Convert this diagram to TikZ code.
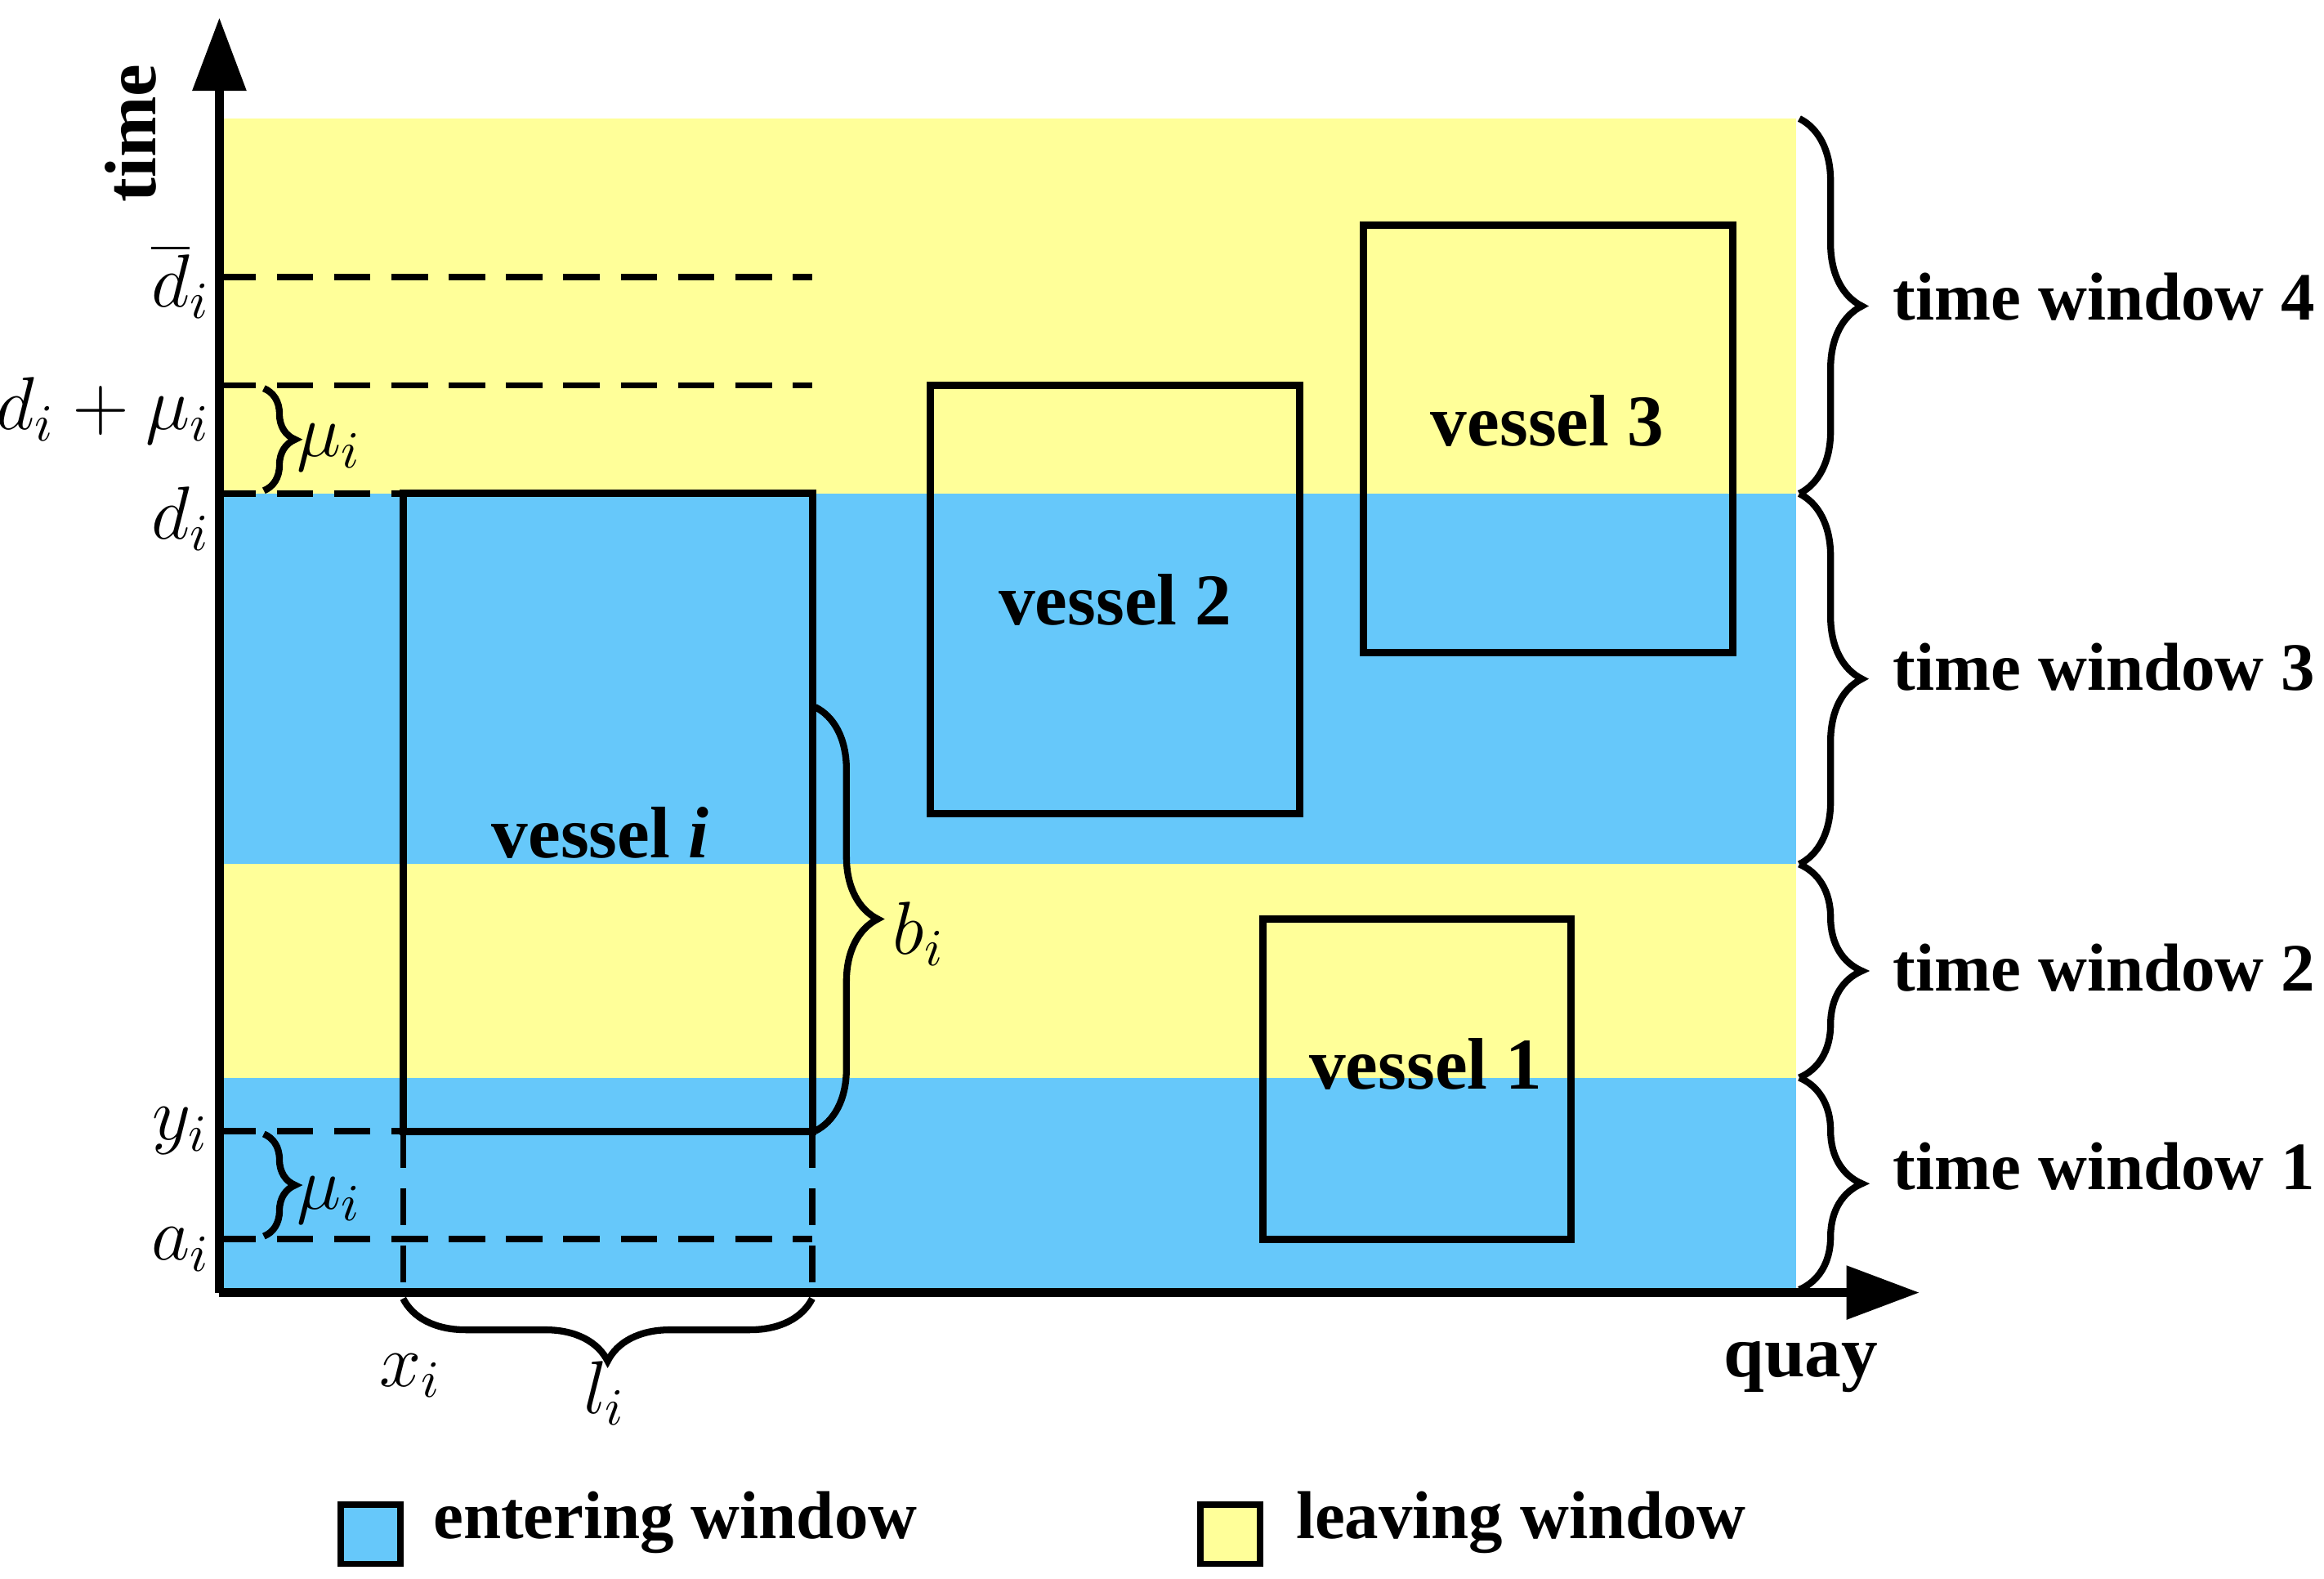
\documentclass[tikz,border=0pt]{standalone}
\usepackage{fontspec}
\setmainfont{Liberation Serif}
\usetikzlibrary{decorations.pathreplacing,arrows.meta}
\definecolor{enter}{RGB}{102,200,250}
\definecolor{leave}{RGB}{255,255,153}
\begin{document}
\begin{tikzpicture}[x=0.01cm,y=-0.01cm,
  box/.style={draw=black,line width=1.4pt},
  dsh/.style={dashed,line width=1.2pt,dash pattern=on 7pt off 4pt},
  br/.style={decorate,decoration={brace,amplitude=8pt},line width=1.3pt},
  lab/.style={font=\bfseries\fontsize{13}{15}\selectfont,anchor=west},
  mlab/.style={font=\fontsize{14}{16}\selectfont}]
\useasboundingbox (0,0) rectangle (1568,1065);
% bands
\fill[leave] (148,80) rectangle (1212,333);
\fill[enter] (148,333) rectangle (1212,583);
\fill[leave] (148,583) rectangle (1212,727);
\fill[enter] (148,727) rectangle (1212,872);
% axes
\coordinate (o) at (148,872);
\coordinate (ytop) at (148,12);
\coordinate (xend) at (1295,872);
\draw[line width=1.6pt,-{Triangle[length=14pt,width=10pt]}] (o) -- (ytop);
\draw[line width=1.6pt,-{Triangle[length=14pt,width=10pt]}] (o) -- (xend);
\node[rotate=90,font=\bfseries\fontsize{14}{16}\selectfont] (time) at (88,90) {time};
\node[font=\bfseries\fontsize{14}{16}\selectfont] (quay) at (1215,922) {quay};
% dashed lines
\draw[dsh] (148,187) -- (548,187);
\draw[dsh] (148,260) -- (548,260);
\draw[dsh] (148,333) -- (272,333);
\draw[dsh] (148,763) -- (272,763);
\draw[dsh] (148,836) -- (548,836);
\draw[dsh] (272,763) -- (272,872);
\draw[dsh] (548,763) -- (548,872);
% vessels
\node[box,minimum width=2.76cm,minimum height=4.30cm,inner sep=0] (vi) at (410,548) {};
\node[font=\bfseries\fontsize{14}{16}\selectfont] (vil) at (405,562) {vessel \textit{i}};
\node[box,minimum width=2.49cm,minimum height=2.89cm,inner sep=0,font=\bfseries\fontsize{14}{16}\selectfont] (v2) at (752.5,404.5) {vessel 2};
\node[box,minimum width=2.49cm,minimum height=2.88cm,inner sep=0] (v3) at (1044.5,296) {};
\node[font=\bfseries\fontsize{14}{16}\selectfont] (v3l) at (1044,284) {vessel 3};
\node[box,minimum width=2.08cm,minimum height=2.16cm,inner sep=0] (v1) at (956,728) {};
\node[font=\bfseries\fontsize{14}{16}\selectfont] (v1l) at (962,718) {vessel 1};
% left labels
\node[mlab] (dbar) at (122,190) {$\overline{d}_i$};
\node[mlab] (dmu) at (70,277) {$d_i+\mu_i$};
\node[mlab] (di) at (122,350) {$d_i$};
\node[mlab] (yi) at (122,763) {$y_i$};
\node[mlab] (ai) at (122,843) {$a_i$};
% mu braces
\coordinate (m1t) at (178,262); \coordinate (m1b) at (178,331);
\draw[br,decoration={amplitude=6pt}] (m1t) -- (m1b);
\node[mlab] (mu1) at (222,302) {$\mu_i$};
\coordinate (m2t) at (178,765); \coordinate (m2b) at (178,834);
\draw[br,decoration={amplitude=6pt}] (m2t) -- (m2b);
\node[mlab] (mu2) at (222,810) {$\mu_i$};
% b_i
\coordinate (bt) at (550,477); \coordinate (bb) at (550,763);
\draw[br,decoration={amplitude=12pt}] (bt) -- (bb);
\node[mlab] (bi) at (620,630) {$b_i$};
% l_i
\coordinate (lr) at (548,876); \coordinate (ll) at (272,876);
\draw[br,decoration={amplitude=12pt}] (lr) -- (ll);
\node[mlab] (li) at (408,940) {$l_i$};
\node[mlab] (xi) at (277,928) {$x_i$};
% time windows
\coordinate (w4t) at (1214,80); \coordinate (w4b) at (1214,333);
\coordinate (w3b) at (1214,583); \coordinate (w2b) at (1214,727); \coordinate (w1b) at (1214,870);
\draw[br,decoration={amplitude=12pt}] (w4t) -- (w4b);
\draw[br,decoration={amplitude=12pt}] (w4b) -- (w3b);
\draw[br,decoration={amplitude=12pt}] (w3b) -- (w2b);
\draw[br,decoration={amplitude=12pt}] (w2b) -- (w1b);
\node[lab] (t4) at (1265,200) {time window 4};
\node[lab] (t3) at (1265,450) {time window 3};
\node[lab] (t2) at (1265,653) {time window 2};
\node[lab] (t1) at (1265,787) {time window 1};
% legend
\node[draw=black,line width=1.2pt,fill=enter,minimum size=0.4cm,inner sep=0] (lb) at (250,1035) {};
\node[lab] (lbt) at (280,1027) {entering window};
\node[draw=black,line width=1.2pt,fill=leave,minimum size=0.4cm,inner sep=0] (ly) at (830,1035) {};
\node[lab] (lyt) at (862,1027) {leaving window};
\end{tikzpicture}
\end{document}
